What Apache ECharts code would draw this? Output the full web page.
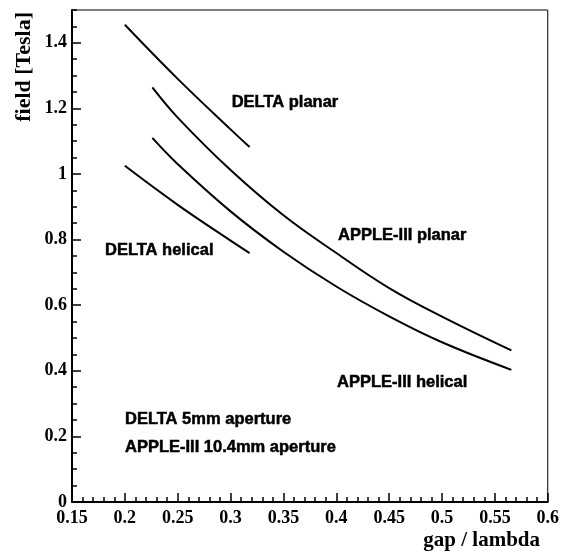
<!DOCTYPE html>
<html>
<head>
<meta charset="utf-8">
<script src="https://cdn.jsdelivr.net/npm/echarts@6/dist/echarts.min.js"></script>
<style>
  html, body { margin: 0; padding: 0; background: #fff; }
  #chart { width: 562px; height: 558px; }
</style>
</head>
<body>
<div id="chart"></div>
<script>
// curves: gap/lambda vs field [Tesla]
var deltaPlanarX = [0.2, 0.25, 0.3, 0.318];
var deltaPlanarY = [1.455, 1.290, 1.136, 1.082];

var deltaHelicalX = [0.2, 0.25, 0.3, 0.318];
var deltaHelicalY = [1.025, 0.906, 0.797, 0.759];

var applePlanarX = [0.226, 0.25, 0.3, 0.35, 0.4, 0.45, 0.5, 0.5656];
var applePlanarY = [1.264, 1.172, 1.012, 0.874, 0.759, 0.652, 0.565, 0.462];

var appleHelicalX = [0.226, 0.25, 0.3, 0.35, 0.4, 0.45, 0.5, 0.5656];
var appleHelicalY = [1.110, 1.030, 0.886, 0.763, 0.657, 0.566, 0.487, 0.403];

// text notes inside the plot (left edge x, centre y)
var noteText = ["DELTA planar", "APPLE-III planar", "APPLE-III helical", "DELTA helical",
                "DELTA 5mm aperture", "APPLE-III 10.4mm aperture"];
var noteX = [0.301, 0.4017, 0.4007, 0.1812, 0.2001, 0.2001];
var noteY = [1.217, 0.814, 0.363, 0.7665, 0.253, 0.165];

var xTitle = "gap / lambda";
var yTitle = "field [Tesla]";

function pairs(xs, ys) {
  return xs.map(function (x, i) { return [x, ys[i]]; });
}

function curve(name, xs, ys) {
  return {
    name: name,
    type: "line",
    data: pairs(xs, ys),
    smooth: 0.4,
    showSymbol: false,
    lineStyle: { color: "#000", width: 2 },
    silent: true
  };
}

var chart = echarts.init(document.getElementById("chart"));

var serif = "'Liberation Serif', 'DejaVu Serif', serif";
var sans = "'Liberation Sans', Arial, sans-serif";

chart.setOption({
  animation: false,
  backgroundColor: "#fff",
  grid: {
    left: 72, right: 14, top: 10, bottom: 56,
    show: true, borderColor: "#000", borderWidth: 1
  },
  xAxis: [{
    type: "value",
    min: 0.15, max: 0.6, interval: 0.05,
    axisLine: { lineStyle: { color: "#000", width: 2 } },
    axisTick: { inside: true, length: 9, lineStyle: { color: "#000", width: 1.5 } },
    minorTick: { show: true, splitNumber: 5, length: 5, lineStyle: { color: "#000", width: 1.5 } },
    splitLine: { show: false },
    axisLabel: {
      margin: 7, color: "#000", fontFamily: serif, fontWeight: "bold", fontSize: 18,
      formatter: function (v) { return String(+v.toFixed(2)); }
    }
  }],
  yAxis: [{
    type: "value",
    min: 0, max: 1.5, interval: 0.2,
    position: "left",
    axisLine: { lineStyle: { color: "#000", width: 2 } },
    axisTick: { inside: true, length: 9, lineStyle: { color: "#000", width: 1.5 } },
    splitLine: { show: false },
    axisLabel: {
      margin: 5, color: "#000", fontFamily: serif, fontWeight: "bold", fontSize: 18,
      showMaxLabel: false,
      formatter: function (v) { return String(+v.toFixed(1)); }
    }
  }, {
    type: "value",
    min: 0, max: 1.5, interval: 0.05,
    position: "left", offset: 0,
    axisLine: { show: false },
    axisTick: { inside: true, length: 5, lineStyle: { color: "#000", width: 1.5 } },
    splitLine: { show: false },
    axisLabel: { show: false }
  }],
  series: [
    curve("DELTA planar", deltaPlanarX, deltaPlanarY),
    curve("DELTA helical", deltaHelicalX, deltaHelicalY),
    curve("APPLE-III planar", applePlanarX, applePlanarY),
    curve("APPLE-III helical", appleHelicalX, appleHelicalY)
  ]
});

// titles and notes as graphic text, notes placed through the grid's scales
var graphics = [{
  type: "text",
  right: 22, top: 530,
  style: { text: xTitle, fill: "#000", font: "bold 21px " + serif }
}, {
  type: "text",
  x: 24, y: 12,
  rotation: Math.PI / 2,
  style: {
    text: yTitle, fill: "#000", font: "bold 22px " + serif,
    align: "right", verticalAlign: "middle"
  }
}];
noteText.forEach(function (t, i) {
  var p = chart.convertToPixel({ gridIndex: 0 }, [noteX[i], noteY[i]]);
  graphics.push({
    type: "text",
    x: p[0], y: p[1],
    style: {
      text: t, fill: "#000", font: "bold 16.5px " + sans,
      align: "left", verticalAlign: "middle",
      stroke: "#000", lineWidth: 0.5
    }
  });
});
chart.setOption({ graphic: graphics });
</script>
</body>
</html>
